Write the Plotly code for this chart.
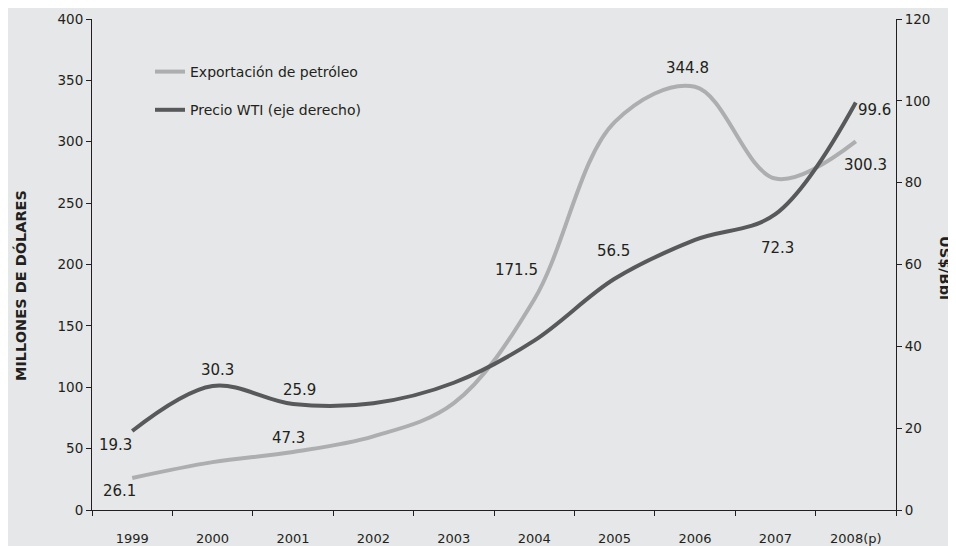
import plotly.graph_objects as go

years = ["1999", "2000", "2001", "2002", "2003", "2004", "2005", "2006", "2007", "2008(p)"]
exportaciones = [26.1, 39.0, 47.3, 60.0, 87.0, 171.5, 316.0, 344.8, 270.0, 300.3]
precio_wti = [19.3, 30.3, 25.9, 26.1, 31.1, 41.4, 56.5, 66.0, 72.3, 99.6]

# labelled values: (year index, text)
labels_exp = [(0, "26.1"), (2, "47.3"), (5, "171.5"), (7, "344.8"), (9, "300.3")]
labels_wti = [(0, "19.3"), (1, "30.3"), (2, "25.9"), (6, "56.5"), (8, "72.3"), (9, "99.6")]
# label offsets in pixels (style)
off_exp = {0: (-13, -13), 2: (-5, 14), 5: (-18, 29), 7: (-8, 19), 9: (10, -24)}
off_wti = {0: (-17, -14), 1: (5, 16), 2: (6, 14), 6: (-1, 28), 8: (2, -34), 9: (19, -8)}

TXT = "#231F20"
BG = "#E6E7E8"
FONT = "DejaVu Sans"

# page body has an 8px margin: figure sized so plot area sits at x 92..896, y 19..510 in window
OFF = 8
W, H = 956 - OFF, 546 - OFF
L, R, T, B = 84, 60, 11, 36
pw, ph = W - L - R, H - T - B

def paper_x(px):
    return (px - OFF - L) / pw

def paper_y(py):
    return 1 - (py - OFF - T) / ph

fig = go.Figure()
fig.add_trace(go.Scatter(
    x=list(range(len(years))), y=exportaciones, name="Exportación de petróleo", mode="lines",
    line=dict(color="#ADAEB0", width=4, shape="spline", smoothing=1),
    yaxis="y", legendgroup="a"))
fig.add_trace(go.Scatter(
    x=list(range(len(years))), y=precio_wti, name="Precio WTI (eje derecho)", mode="lines",
    line=dict(color="#58595B", width=4, shape="spline", smoothing=1),
    yaxis="y2", legendgroup="b"))

ann = []
for i, t in labels_exp:
    dx, dy = off_exp[i]
    ann.append(dict(x=i, y=exportaciones[i], xref="x", yref="y", text=t,
                    showarrow=False, xshift=dx, yshift=dy,
                    font=dict(family=FONT, size=15, color=TXT)))
for i, t in labels_wti:
    dx, dy = off_wti[i]
    ann.append(dict(x=i, y=precio_wti[i], xref="x", yref="y2", text=t,
                    showarrow=False, xshift=dx, yshift=dy,
                    font=dict(family=FONT, size=15, color=TXT)))
ann.append(dict(x=paper_x(20), y=paper_y(286), xref="paper", yref="paper",
                xanchor="center", yanchor="middle",
                text="<b>MILLONES DE DÓLARES</b>", showarrow=False, textangle=-90,
                font=dict(family=FONT, size=14.5, color=TXT)))
ann.append(dict(x=paper_x(945), y=paper_y(268), xref="paper", yref="paper",
                xanchor="center", yanchor="middle",
                text="<b>US$/Bbl</b>", showarrow=False, textangle=90,
                font=dict(family=FONT, size=14.5, color=TXT)))

fig.update_layout(
    width=W, height=H,
    paper_bgcolor=BG, plot_bgcolor=BG,
    margin=dict(l=L, r=R, t=T, b=B, autoexpand=False),
    font=dict(family=FONT, size=13, color=TXT),
    showlegend=True,
    legend=dict(x=paper_x(150), y=paper_y(56), xanchor="left", yanchor="top",
                bgcolor="rgba(0,0,0,0)", font=dict(family=FONT, size=14, color=TXT),
                tracegroupgap=17, traceorder="grouped"),
    xaxis=dict(range=[-0.5, 9.5], tickmode="array", tickvals=list(range(len(years))),
               ticktext=years, showline=True, linecolor=TXT, linewidth=1, automargin=False,
               ticks="", showgrid=False, zeroline=False, ticklabelstandoff=16,
               tickfont=dict(family=FONT, size=13, color=TXT),
               minor=dict(tickmode="array", tickvals=[i - 0.5 for i in range(len(years) + 1)],
                          ticks="outside", ticklen=5, tickcolor=TXT, showgrid=False)),
    yaxis=dict(range=[0, 400], dtick=50, showline=True, linecolor=TXT, linewidth=1,
               ticks="outside", ticklen=5, tickcolor=TXT, showgrid=False, zeroline=False,
               automargin=False, tickfont=dict(family=FONT, size=13.5, color=TXT)),
    yaxis2=dict(range=[0, 120], dtick=20, overlaying="y", side="right", showline=True,
                linecolor=TXT, linewidth=1, ticks="outside", ticklen=5, tickcolor=TXT,
                showgrid=False, zeroline=False, automargin=False,
                tickfont=dict(family=FONT, size=13.5, color=TXT)),
    # inner half of the crossing ticks on the right axis
    yaxis3=dict(range=[0, 120], dtick=20, overlaying="y", side="right", showline=False,
                ticks="inside", ticklen=5, tickcolor=TXT, showticklabels=False,
                showgrid=False, zeroline=False, automargin=False),
    annotations=ann,
)

fig.write_html("out.html")
